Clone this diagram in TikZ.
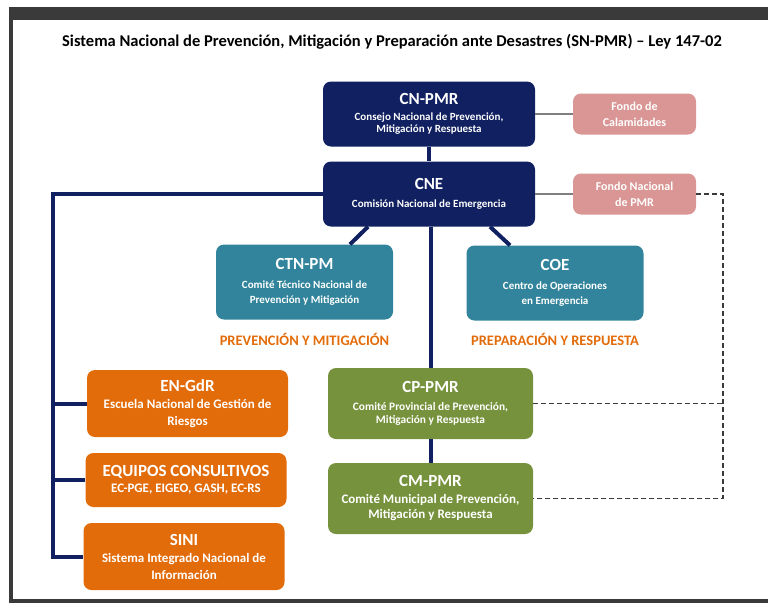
\documentclass[tikz,border=0pt]{standalone}
\usepackage{fontspec}
\setmainfont{Carlito}
\usepackage{tikz}
\usetikzlibrary{positioning}
\definecolor{azulmar}{RGB}{16,32,96}
\definecolor{rosa}{RGB}{217,150,148}
\definecolor{turquesa}{RGB}{49,132,155}
\definecolor{naranja}{RGB}{227,108,10}
\definecolor{verde}{RGB}{118,146,60}
\definecolor{marco}{RGB}{58,58,58}
\definecolor{gris}{RGB}{127,127,127}
\newcommand{\ttl}[1]{{\fontsize{17}{17}\selectfont #1}}
\tikzset{
  caja/.style={rounded corners=8pt, align=center, text=white, inner sep=0pt,
    font=\bfseries\fontsize{11}{12.5}\selectfont},
  nac/.style={caja, fill=azulmar, minimum width=212pt, minimum height=65pt},
  fondo/.style={caja, fill=rosa, minimum width=123pt, minimum height=41pt,
    font=\bfseries\fontsize{12}{16}\selectfont},
  tec/.style={caja, fill=turquesa, minimum width=177pt, minimum height=75pt,
    font=\bfseries\fontsize{11}{15}\selectfont},
  esc/.style={caja, fill=naranja, minimum width=201pt,
    font=\bfseries\fontsize{13}{16.5}\selectfont},
  loc/.style={caja, fill=verde, minimum width=205pt, minimum height=71pt},
  etiqueta/.style={text=naranja, font=\bfseries\fontsize{14.5}{14.5}\selectfont},
  enlace/.style={azulmar, line width=4pt},
  fino/.style={gris, line width=1.5pt},
  punteado/.style={marco, line width=1.3pt, dash pattern=on 5pt off 3pt}
}
\begin{document}
\begin{tikzpicture}[x=1pt, y=-1pt]
    \useasboundingbox (0,0) rectangle (768,603);
    \fill[marco] (9,7) rectangle (768,20);
    \fill[marco] (9,7) rectangle (13,603);
    \fill[marco] (9,599) rectangle (768,603);
    \node (titulo) at (392,42) {\bfseries\fontsize{16.5}{16.5}\selectfont Sistema Nacional de Prevención, Mitigación y Preparación ante Desastres (SN-PMR) – Ley 147-02};

    \node[nac] (cnpmr) at (429,114) {\ttl{CN-PMR}\\[3pt] Consejo Nacional de Prevención,\\ Mitigación y Respuesta};
    \node[fondo] (fcal) at (634.5,114) {Fondo de\\ Calamidades};
    \node[nac] (cne) at (429,194) {\ttl{CNE}\\[6pt] Comisión Nacional de Emergencia};
    \node[fondo] (fnac) at (634.5,194) {Fondo Nacional\\ de PMR};
    \node[tec] (ctnpm) at (304.5,282) {\ttl{CTN-PM}\\[4pt] Comité Técnico Nacional de\\ Prevención y Mitigación};
    \node[tec] (coe) at (555,283) {\ttl{COE}\\[4pt] Centro de Operaciones\\ en Emergencia};
    \node[etiqueta, below=10pt of ctnpm] (prevmit) {PREVENCIÓN Y MITIGACIÓN};
    \node[etiqueta, below=9pt of coe] (prepresp) {PREPARACIÓN Y RESPUESTA};

    \node[esc, minimum height=67pt] (engdr) at (187.5,403.5) {\ttl{EN-GdR}\\[1pt] Escuela Nacional de Gestión de\\ Riesgos};
    \node[esc, minimum height=54pt] (equipos) at (186,480) {\ttl{EQUIPOS CONSULTIVOS}\\[0pt] EC-PGE, EIGEO, GASH, EC-RS};
    \node[esc, minimum height=67pt] (sini) at (184,556.5) {\ttl{SINI}\\[1pt] Sistema Integrado Nacional de\\ Información};
    \node[loc, font=\bfseries\fontsize{11.4}{13.5}\selectfont] (cppmr) at (430.5,403.5) {\ttl{CP-PMR}\\[4pt] Comité Provincial de Prevención,\\ Mitigación y Respuesta};
    \node[loc, font=\bfseries\fontsize{13}{15.5}\selectfont] (cmpmr) at (430.5,498.5) {\ttl{CM-PMR}\\[1pt] Comité Municipal de Prevención,\\ Mitigación y Respuesta};

    \coordinate (eje) at (53,194);
    \coordinate (esq) at (723,194);

    \draw[enlace] (cnpmr) -- (cne);
    \draw[enlace] (cne.west) -- (eje) -- (eje |- sini.west) -- (sini.west);
    \draw[enlace] (engdr.west) -- (engdr.west -| eje);
    \draw[enlace] (equipos.west) -- (equipos.west -| eje);
    \draw[enlace] ([xshift=-61pt]cne.south) -- ([xshift=45.5pt]ctnpm.north);
    \draw[enlace] ([xshift=61pt]cne.south) -- ([xshift=-45pt]coe.north);
    \draw[enlace] (cppmr.north |- cne.south) -- (cppmr.north);
    \draw[enlace] (cppmr) -- (cmpmr);
    \draw[fino] (cnpmr) -- (fcal);
    \draw[fino] (cne) -- (fnac);
    \draw[punteado] (fnac.east) -- (esq) -- (esq |- cmpmr.east) -- (cmpmr.east);
    \draw[punteado] (cppmr.east) -- (cppmr.east -| esq);
\end{tikzpicture}
\end{document}
